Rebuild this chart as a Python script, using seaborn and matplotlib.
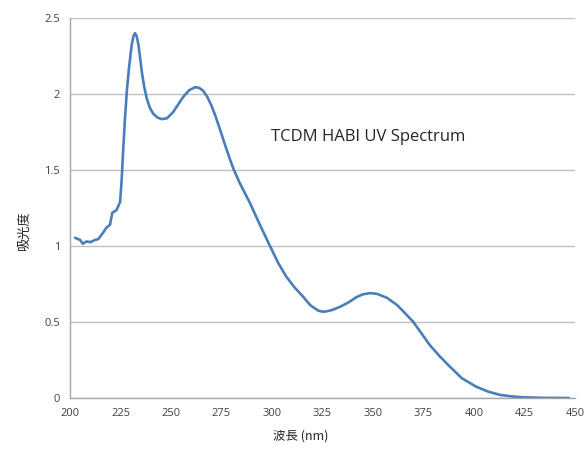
import matplotlib
matplotlib.use("Agg")
import matplotlib.pyplot as plt
import seaborn as sns
import pandas as pd

wavelength = [202.5, 205, 206.3, 208.2, 210, 212.4, 214, 216.5, 218, 219.8, 221, 223, 224.8,
              225.6, 226.2, 227.2, 228.2, 229.2, 230.5, 231.4, 232.2, 233, 233.8, 234.7, 235.5,
              236.7, 238, 239.5, 241.2, 243.3, 245.4, 248, 251, 253.5, 256, 259, 262, 264, 266,
              268, 270, 272, 274.3, 277, 279.2, 281, 284, 289, 294, 299, 303, 307, 311, 315.5,
              319, 322.9, 325, 327, 330, 333.7, 338, 342, 345, 348.5, 352, 356.8, 361.7, 365,
              370, 374, 378, 383, 388, 394, 401, 407, 413, 419, 424, 435, 447]
absorbance = [1.054, 1.04, 1.015, 1.03, 1.025, 1.04, 1.045, 1.09, 1.12, 1.14, 1.22, 1.235, 1.29,
              1.44, 1.60, 1.835, 2.03, 2.17, 2.32, 2.38, 2.40, 2.38, 2.33, 2.24, 2.15,
              2.05, 1.97, 1.91, 1.87, 1.845, 1.835, 1.84, 1.88, 1.93, 1.98, 2.025, 2.045, 2.04, 2.02,
              1.98, 1.925, 1.855, 1.765, 1.655, 1.57, 1.505, 1.415, 1.285, 1.14, 1.0, 0.89, 0.80, 0.73, 0.665,
              0.61, 0.575, 0.568, 0.57, 0.58, 0.60, 0.63, 0.665, 0.682, 0.69, 0.685, 0.66, 0.614, 0.57,
              0.50, 0.425, 0.35, 0.275, 0.207, 0.13, 0.075, 0.042, 0.02, 0.01, 0.005, 0.001, 0.0]

x_ticks = [200, 225, 250, 275, 300, 325, 350, 375, 400, 425, 450]
y_ticks = [0, 0.5, 1, 1.5, 2, 2.5]
y_tick_labels = ["0", "0.5", "1", "1.5", "2", "2.5"]
title_text = "TCDM HABI UV Spectrum"
x_label = "波長 (nm)"
y_label = "吸光度"

sns.set_theme(style="white")
plt.rcParams['font.family'] = ['Open Sans', 'Noto Sans CJK JP', 'DejaVu Sans']

fig = plt.figure(figsize=(5.87, 4.49), dpi=100)
ax = fig.add_axes([70/587, 1-398/449, (575-70)/587, (398-18)/449])

df = pd.DataFrame({"wl": wavelength, "abs": absorbance})
sns.lineplot(data=df, x="wl", y="abs", ax=ax, color="#4a7ebb", linewidth=1.9, sort=False)
ax.lines[0].set_solid_joinstyle("round")

ax.set_xlim(200, 450)
ax.set_ylim(0, 2.5)
ax.set_xticks(x_ticks)
ax.set_xticklabels([str(t) for t in x_ticks])
ax.set_yticks(y_ticks)
ax.set_yticklabels(y_tick_labels)
ax.yaxis.grid(True, color="#c0c0c0", linewidth=1)
ax.xaxis.grid(False)
for s in ["top", "right"]:
    ax.spines[s].set_visible(False)
for s in ["left", "bottom"]:
    ax.spines[s].set_color("#a6a6a6")
    ax.spines[s].set_linewidth(1)
ax.tick_params(axis="both", which="both", direction="out", length=4, width=1,
               color="#a6a6a6", labelsize=8, labelcolor="#404040", pad=3)
ax.set_axisbelow(True)

ax.set_xlabel(x_label, fontsize=9, color="#262626",
              family=['Noto Sans CJK JP', 'DejaVu Sans'])
ax.set_ylabel(y_label, fontsize=9.5, color="#262626",
              family=['Noto Sans CJK JP', 'DejaVu Sans'])
ax.xaxis.set_label_coords(0.457, -0.083)
ax.yaxis.set_label_coords(-0.077, 0.44)

ax.text(347.5, 1.715, title_text, fontsize=12, color="#262626", ha="center", va="center")

fig.savefig("out.png", dpi=100)
